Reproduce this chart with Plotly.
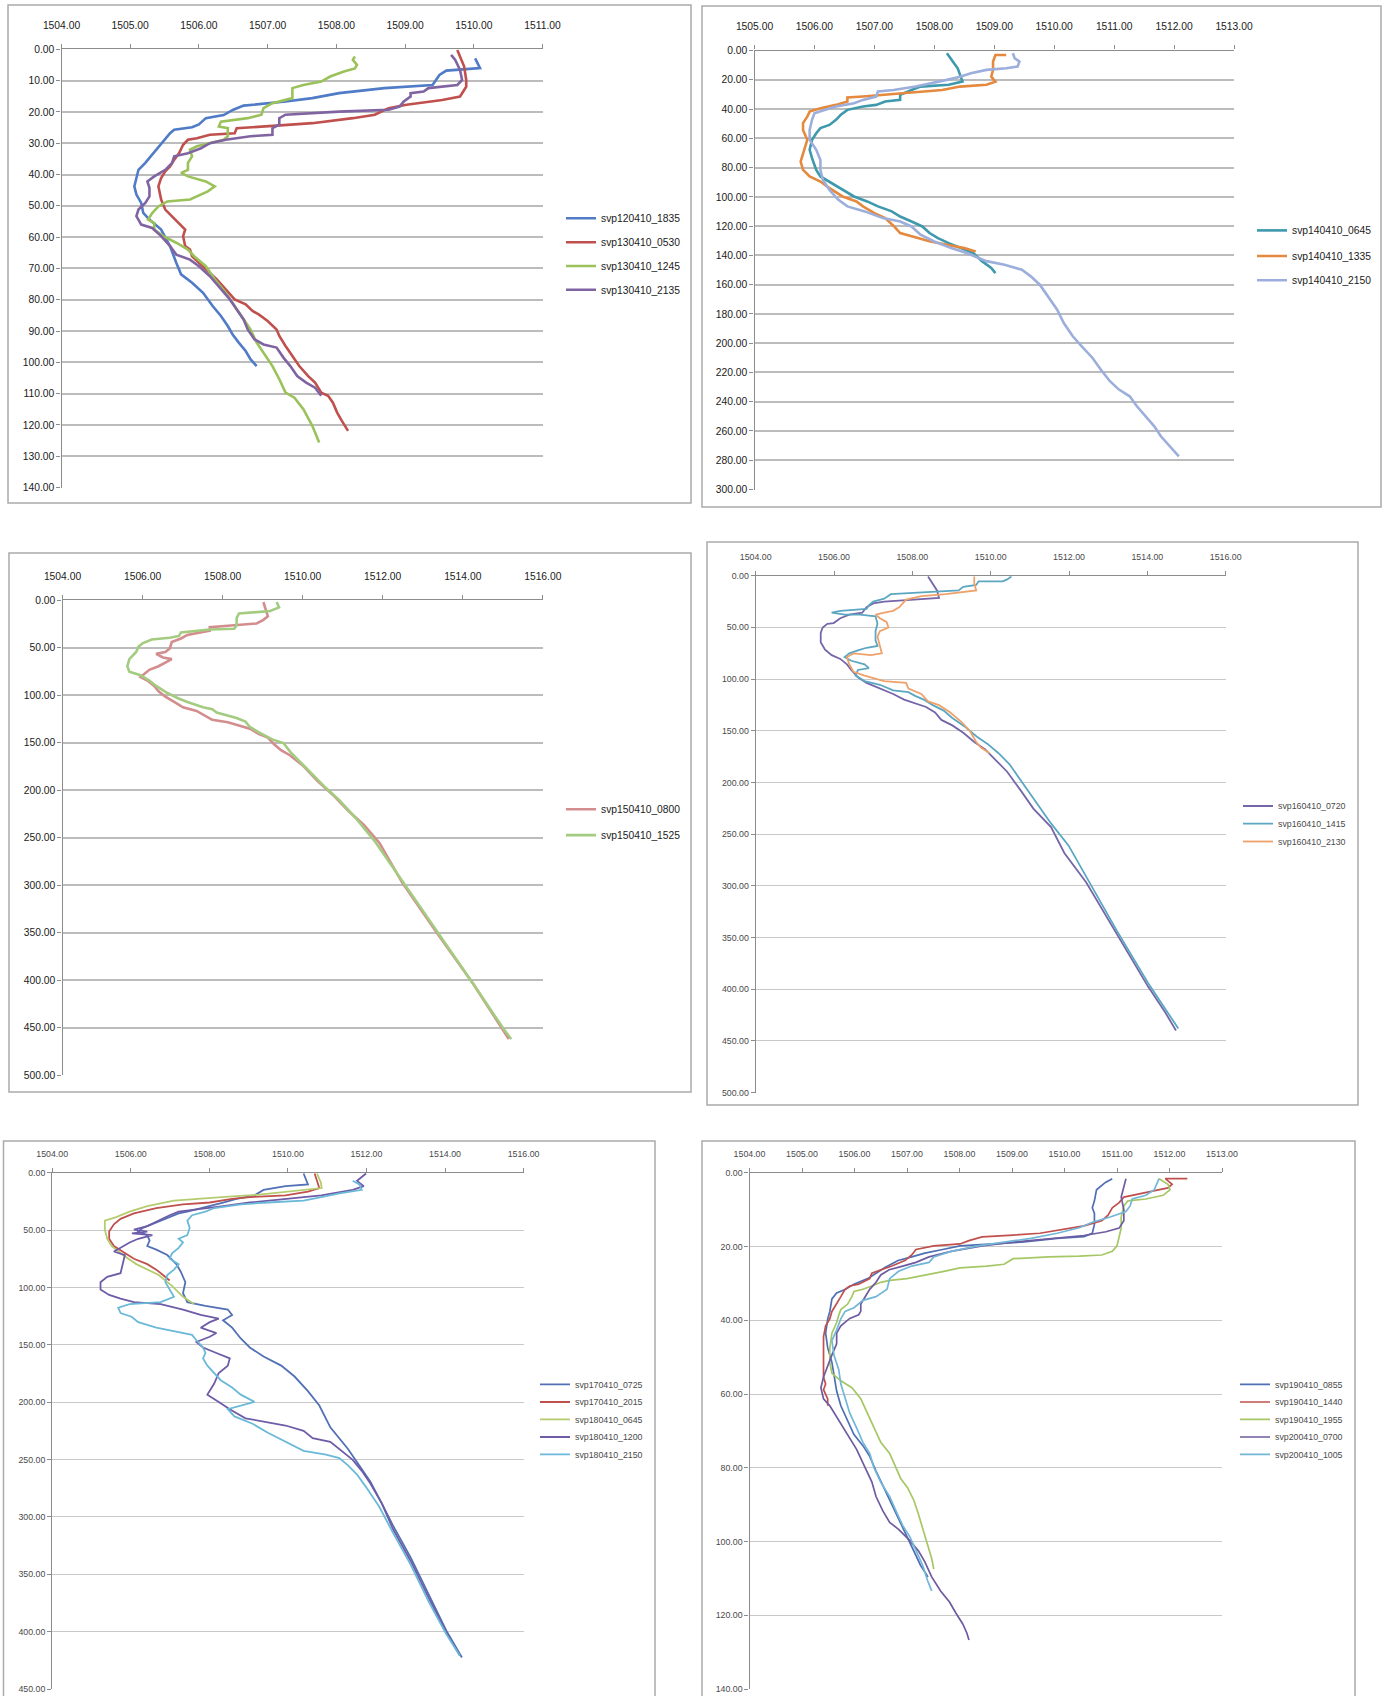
import plotly.graph_objects as go

W, H = 1388, 1696

# ---------------- data: (depth m, sound speed m/s) ----------------
# Panel 1
svp120410_1835 = [(2.9,1510.02),(6.0,1510.09),(6.8,1509.60),(8.2,1509.50),(11.4,1509.40),(12.4,1508.70),(14.0,1508.04),(15.6,1507.65),(16.7,1507.26),(18.0,1506.65),(19.3,1506.50),(21.0,1506.36),(22.0,1506.10),(24.0,1506.00),(24.9,1505.90),(25.7,1505.64),(26.8,1505.58),(28.9,1505.50),(30.0,1505.45),(32.0,1505.38),(33.7,1505.32),(36.3,1505.22),(38.5,1505.12),(41.7,1505.09),(43.8,1505.06),(46.4,1505.09),(49.1,1505.16),(52.3,1505.19),(54.4,1505.28),(57.6,1505.45),(62.9,1505.58),(68.2,1505.67),(71.9,1505.74),(74.6,1505.90),(77.8,1506.06),(82.0,1506.20),(85.2,1506.32),(88.4,1506.42),(91.1,1506.49),(93.7,1506.58),(96.4,1506.68),(99.0,1506.75),(101.2,1506.84)]
svp130410_0530 = [(0.2,1509.76),(2.3,1509.80),(5.5,1509.86),(9.8,1509.89),(11.9,1509.89),(13.0,1509.86),(15.1,1509.80),(16.2,1509.54),(16.7,1509.34),(17.7,1509.02),(18.8,1508.76),(20.9,1508.56),(22.0,1508.24),(23.6,1507.65),(24.4,1507.13),(25.2,1506.55),(26.8,1506.52),(27.3,1506.16),(28.4,1505.97),(28.9,1505.84),(30.5,1505.77),(33.2,1505.71),(35.3,1505.64),(37.4,1505.58),(39.0,1505.51),(41.1,1505.45),(43.8,1505.41),(48.0,1505.45),(51.2,1505.51),(53.3,1505.61),(55.5,1505.71),(57.6,1505.80),(59.7,1505.77),(62.9,1505.80),(64.0,1505.87),(66.1,1505.90),(68.2,1506.00),(70.3,1506.10),(73.5,1506.26),(76.7,1506.39),(79.9,1506.52),(81.5,1506.68),(83.6,1506.78),(84.7,1506.87),(86.8,1507.00),(89.5,1507.13),(91.6,1507.17),(94.8,1507.26),(98.0,1507.36),(101.2,1507.46),(104.4,1507.59),(106.5,1507.69),(109.7,1507.78),(110.7,1507.88),(112.9,1507.95),(116.0,1508.01),(118.7,1508.08),(121.9,1508.17)]
svp130410_1245 = [(2.3,1508.27),(3.4,1508.24),(5.0,1508.30),(6.1,1508.27),(7.1,1508.11),(8.7,1507.91),(10.3,1507.78),(11.4,1507.52),(12.4,1507.36),(15.6,1507.36),(17.2,1507.07),(18.8,1506.94),(20.9,1506.91),(22.0,1506.71),(23.1,1506.32),(24.7,1506.29),(25.2,1506.42),(27.8,1506.42),(28.9,1506.36),(30.0,1506.13),(31.0,1505.97),(32.1,1505.87),(34.2,1505.90),(36.3,1505.84),(38.5,1505.84),(39.5,1505.74),(40.6,1505.84),(42.2,1506.10),(43.8,1506.23),(45.4,1506.13),(47.0,1505.97),(48.0,1505.87),(48.6,1505.54),(50.2,1505.41),(52.3,1505.32),(54.4,1505.26),(55.5,1505.35),(57.6,1505.35),(59.7,1505.48),(61.8,1505.67),(64.0,1505.84),(66.1,1505.93),(69.3,1506.10),(73.5,1506.23),(77.8,1506.39),(82.0,1506.52),(85.2,1506.62),(89.5,1506.75),(93.7,1506.84),(98.0,1506.97),(101.2,1507.07),(105.4,1507.17),(109.7,1507.26),(111.3,1507.39),(115.0,1507.52),(120.3,1507.65),(125.6,1507.75)]
svp130410_2135 = [(1.8,1509.67),(3.4,1509.73),(6.6,1509.80),(9.8,1509.83),(11.4,1509.76),(12.4,1509.34),(13.5,1509.27),(14.0,1509.08),(15.1,1509.08),(16.7,1508.98),(18.3,1508.92),(19.3,1508.76),(19.9,1508.04),(20.9,1507.26),(22.0,1507.17),(24.1,1507.17),(25.2,1507.07),(27.3,1507.07),(27.8,1506.75),(28.9,1506.39),(30.0,1506.16),(31.6,1506.03),(33.2,1505.84),(34.2,1505.64),(36.3,1505.61),(38.5,1505.51),(40.6,1505.35),(42.2,1505.25),(44.3,1505.28),(47.0,1505.28),(49.1,1505.22),(51.2,1505.12),(53.3,1505.09),(56.0,1505.16),(57.1,1505.32),(59.7,1505.45),(62.9,1505.58),(65.6,1505.67),(67.2,1505.87),(69.3,1506.00),(72.5,1506.16),(76.7,1506.32),(79.9,1506.45),(83.1,1506.55),(86.3,1506.65),(89.5,1506.71),(92.7,1506.81),(94.3,1506.94),(95.3,1507.13),(98.5,1507.23),(101.2,1507.33),(104.4,1507.43),(106.5,1507.56),(108.1,1507.69),(110.7,1507.78)]

# Panel 2
svp140410_0645 = [(1.8,1508.21),(6.4,1508.29),(12.1,1508.39),(16.6,1508.43),(21.2,1508.47),(23.4,1508.24),(24.6,1507.77),(26.9,1507.62),(30.3,1507.43),(33.7,1507.43),(34.8,1507.18),(37.1,1507.03),(38.2,1506.81),(40.5,1506.55),(43.9,1506.44),(47.3,1506.36),(50.8,1506.25),(53.0,1506.10),(56.5,1506.03),(61.0,1505.96),(67.8,1505.92),(73.5,1505.96),(81.5,1506.03),(86.0,1506.10),(90.6,1506.29),(95.2,1506.47),(99.7,1506.66),(103.1,1506.88),(106.5,1507.06),(109.9,1507.29),(113.4,1507.43),(116.8,1507.62),(120.2,1507.80),(124.7,1507.92),(128.2,1508.06),(131.6,1508.24),(135.0,1508.43),(138.4,1508.65),(144.1,1508.80),(148.6,1508.95),(152.1,1509.02)]
svp140410_1335 = [(3.0,1509.20),(3.0,1509.02),(7.5,1508.98),(13.2,1508.98),(17.8,1508.95),(21.2,1509.02),(23.4,1508.87),(24.6,1508.43),(26.9,1508.13),(29.1,1507.54),(30.3,1507.10),(31.4,1506.81),(32.1,1506.55),(34.8,1506.55),(37.1,1506.36),(39.4,1506.10),(41.7,1505.92),(45.1,1505.88),(49.6,1505.81),(54.2,1505.81),(61.0,1505.88),(66.7,1505.84),(71.3,1505.81),(75.8,1505.77),(81.5,1505.81),(86.0,1505.92),(89.5,1506.10),(94.0,1506.25),(99.7,1506.47),(103.1,1506.70),(106.5,1506.81),(111.1,1507.00),(114.5,1507.18),(120.2,1507.33),(124.7,1507.43),(127.0,1507.62),(130.3,1507.92),(132.7,1508.21),(135.0,1508.50),(137.3,1508.69)]
svp140410_2150 = [(1.8,1509.31),(5.2,1509.34),(7.5,1509.42),(10.9,1509.39),(12.1,1509.20),(13.2,1508.87),(15.5,1508.61),(17.8,1508.43),(20.0,1508.21),(22.3,1507.92),(24.6,1507.69),(26.9,1507.32),(28.0,1507.06),(31.4,1507.03),(33.7,1506.81),(36.0,1506.66),(38.2,1506.36),(40.5,1506.18),(42.8,1506.00),(47.3,1505.96),(54.2,1505.92),(61.0,1505.92),(67.8,1506.03),(74.7,1506.10),(81.5,1506.10),(88.3,1506.14),(95.2,1506.25),(102.0,1506.40),(106.5,1506.55),(109.9,1506.84),(114.5,1507.14),(116.8,1507.43),(120.2,1507.62),(125.9,1507.77),(130.3,1507.99),(135.0,1508.28),(138.4,1508.54),(143.9,1508.87),(146.4,1509.17),(149.8,1509.46),(154.3,1509.61),(160.0,1509.76),(168.0,1509.90),(177.1,1510.05),(186.2,1510.16),(195.3,1510.31),(202.1,1510.46),(210.1,1510.64),(218.1,1510.78),(226.0,1510.93),(231.7,1511.08),(236.3,1511.26),(243.1,1511.38),(250.0,1511.52),(256.8,1511.67),(263.6,1511.78),(270.4,1511.93),(277.3,1512.08)]

# Panel 3
svp150410_0800 = [(1.9,1509.02),(9.4,1509.07),(16.9,1509.13),(20.6,1509.02),(24.4,1508.85),(26.3,1508.29),(28.2,1507.68),(31.9,1507.68),(33.8,1507.46),(36.4,1507.12),(40.2,1506.96),(43.9,1506.73),(50.7,1506.68),(54.4,1506.57),(56.3,1506.34),(60.1,1506.51),(61.9,1506.73),(65.7,1506.57),(69.4,1506.40),(73.2,1506.17),(77.0,1506.06),(80.7,1505.95),(84.5,1506.12),(90.1,1506.29),(95.7,1506.40),(101.4,1506.57),(107.0,1506.79),(112.6,1507.01),(116.4,1507.35),(122.0,1507.57),(125.8,1507.74),(128.4,1508.13),(132.1,1508.41),(135.1,1508.68),(140.8,1508.91),(144.5,1509.13),(152.0,1509.30),(157.7,1509.46),(163.3,1509.69),(174.5,1510.02),(189.6,1510.36),(204.6,1510.75),(221.5,1511.14),(236.5,1511.53),(255.3,1511.92),(296.6,1512.48),(351.0,1513.37),(403.5,1514.26),(461.7,1515.15)]
svp150410_1525 = [(1.9,1509.35),(7.5,1509.41),(11.3,1509.19),(13.9,1508.41),(18.8,1508.35),(26.3,1508.35),(30.0,1508.29),(30.8,1507.68),(33.8,1506.96),(37.5,1506.91),(39.4,1506.68),(41.3,1506.23),(45.0,1506.01),(48.8,1505.90),(54.4,1505.84),(61.9,1505.67),(69.4,1505.62),(75.1,1505.67),(78.8,1505.95),(84.5,1506.17),(90.1,1506.34),(97.6,1506.62),(103.3,1506.90),(107.0,1507.12),(112.6,1507.51),(114.5,1507.74),(118.2,1507.85),(123.9,1508.35),(127.6,1508.57),(133.3,1508.68),(138.9,1508.91),(146.4,1509.24),(150.2,1509.52),(159.5,1509.69),(178.3,1510.13),(197.1,1510.57),(210.2,1510.91),(230.9,1511.36),(253.4,1511.80),(294.7,1512.48),(349.1,1513.37),(403.5,1514.26),(452.3,1515.04),(461.7,1515.21)]

# Panel 4
svp160410_0720 = [(0.7,1508.40),(7.2,1508.52),(14.3,1508.63),(21.5,1508.68),(23.2,1508.07),(25.0,1507.28),(26.8,1507.00),(30.4,1506.83),(35.8,1506.72),(37.6,1506.39),(41.1,1506.16),(45.8,1505.99),(46.5,1505.83),(50.1,1505.71),(55.4,1505.66),(64.4,1505.66),(71.5,1505.77),(76.9,1505.94),(80.5,1506.16),(85.8,1506.33),(91.2,1506.44),(98.4,1506.61),(103.7,1506.83),(109.1,1507.17),(114.4,1507.51),(119.8,1507.79),(123.4,1508.07),(127.0,1508.35),(132.3,1508.58),(139.5,1508.74),(144.8,1509.02),(152.0,1509.30),(160.9,1509.58),(168.1,1509.86),(178.8,1510.14),(189.6,1510.42),(207.4,1510.76),(225.3,1511.09),(243.2,1511.54),(268.2,1511.88),(296.8,1512.44),(346.9,1513.22),(397.0,1514.01),(422.0,1514.45),(439.9,1514.73)]
svp160410_1415 = [(0.7,1510.53),(3.6,1510.42),(5.4,1510.31),(5.4,1509.69),(8.9,1509.63),(10.7,1509.30),(14.3,1509.18),(16.1,1508.23),(17.9,1507.45),(22.2,1507.28),(25.0,1507.00),(28.6,1506.89),(32.2,1506.83),(34.0,1506.16),(35.8,1505.94),(37.6,1506.27),(37.6,1506.66),(39.3,1507.06),(46.5,1507.11),(53.6,1507.06),(62.6,1507.06),(68.0,1507.11),(69.7,1506.83),(72.2,1506.61),(75.1,1506.39),(78.7,1506.27),(82.3,1506.44),(85.8,1506.78),(89.4,1506.89),(91.2,1506.61),(96.6,1506.55),(101.9,1506.78),(105.5,1507.17),(110.9,1507.51),(112.7,1507.90),(116.2,1508.07),(119.8,1508.29),(125.2,1508.52),(130.5,1508.80),(137.7,1509.02),(146.6,1509.36),(155.6,1509.64),(162.7,1509.92),(171.7,1510.20),(182.4,1510.48),(200.3,1510.81),(218.2,1511.15),(239.6,1511.54),(261.1,1511.99),(291.5,1512.44),(343.3,1513.22),(393.4,1514.01),(425.6,1514.57),(438.1,1514.79)]
svp160410_2130 = [(0.7,1509.58),(7.2,1509.58),(14.3,1509.63),(17.9,1508.85),(19.7,1508.23),(23.2,1507.84),(30.4,1507.67),(34.0,1507.51),(35.8,1507.28),(37.6,1507.06),(41.1,1507.17),(44.7,1507.34),(50.1,1507.39),(53.6,1507.17),(59.0,1507.11),(68.0,1507.17),(75.1,1507.22),(76.9,1506.94),(75.1,1506.50),(78.7,1506.33),(85.8,1506.39),(93.0,1506.50),(96.6,1506.78),(101.9,1507.28),(103.7,1507.84),(109.1,1507.90),(114.4,1508.23),(121.6,1508.40),(125.2,1508.68),(132.3,1508.97),(141.3,1509.25),(150.2,1509.47),(160.9,1509.63),(166.3,1509.75),(171.7,1509.97)]

# Panel 5
svp170410_0725 = [(0.6,1510.40),(5.4,1510.45),(10.1,1510.51),(11.7,1509.94),(14.9,1509.38),(19.6,1509.15),(22.8,1508.69),(25.9,1508.35),(29.1,1508.01),(30.7,1507.78),(33.8,1507.44),(35.4,1507.22),(38.6,1506.99),(41.7,1506.76),(44.9,1506.53),(48.0,1506.31),(51.2,1506.19),(54.4,1506.42),(59.1,1506.48),(63.8,1506.42),(67.0,1506.65),(71.7,1506.93),(79.6,1507.16),(86.0,1507.27),(95.4,1507.39),(104.9,1507.33),(112.8,1507.44),(116.0,1507.90),(119.2,1508.47),(123.9,1508.58),(128.6,1508.35),(135.0,1508.58),(144.4,1508.80),(152.3,1509.03),(160.2,1509.38),(168.1,1509.83),(177.6,1510.17),(190.3,1510.51),(202.9,1510.80),(221.9,1511.08),(240.8,1511.53),(255.1,1511.82),(269.3,1512.10),(288.2,1512.39),(307.2,1512.67),(335.7,1513.13),(367.3,1513.58),(398.9,1514.03),(422.6,1514.43)]
svp170410_2015 = [(0.6,1510.68),(7.0,1510.74),(13.3,1510.80),(16.4,1510.51),(19.6,1509.94),(21.2,1509.03),(22.8,1508.58),(25.9,1508.01),(27.5,1507.33),(30.7,1506.65),(35.4,1506.08),(40.1,1505.74),(44.9,1505.57),(51.2,1505.45),(57.5,1505.45),(63.8,1505.57),(68.6,1505.80),(74.9,1506.08),(79.6,1506.42),(84.4,1506.65),(89.1,1506.82),(93.9,1506.99)]
svp180410_0645 = [(0.6,1510.74),(8.5,1510.84),(13.3,1510.86),(16.4,1510.07),(19.0,1509.27),(20.5,1508.58),(22.1,1507.90),(24.3,1507.10),(29.1,1506.42),(33.8,1505.97),(38.6,1505.63),(41.7,1505.34),(49.6,1505.34),(57.5,1505.40),(63.8,1505.51),(71.7,1505.80),(79.6,1506.14),(84.4,1506.42),(89.1,1506.71),(98.6,1507.05),(108.1,1507.33),(114.4,1507.61)]
svp180410_1200 = [(0.6,1511.99),(7.0,1511.76),(11.7,1511.93),(14.9,1511.65),(19.6,1510.85),(22.8,1509.94),(25.9,1509.03),(29.1,1508.35),(32.2,1507.67),(33.8,1507.22),(37.0,1506.99),(41.7,1506.70),(46.5,1506.42),(49.6,1506.08),(51.2,1506.42),(52.8,1506.03),(54.4,1506.55),(57.5,1506.19),(60.7,1505.97),(65.4,1505.74),(68.6,1505.57),(71.7,1505.85),(79.6,1505.80),(87.5,1505.74),(90.7,1505.40),(95.4,1505.23),(101.8,1505.23),(106.5,1505.45),(109.7,1505.74),(112.8,1506.08),(114.4,1506.76),(119.2,1507.33),(123.9,1507.78),(127.1,1508.24),(130.2,1508.01),(135.0,1507.78),(139.7,1508.18),(142.9,1508.01),(147.5,1507.67),(152.3,1507.84),(157.1,1508.18),(161.8,1508.52),(168.1,1508.47),(174.5,1508.24),(183.9,1508.12),(193.4,1507.95),(199.7,1508.24),(206.1,1508.52),(214.0,1508.92),(217.2,1509.49),(220.3,1509.94),(225.0,1510.40),(231.4,1510.63),(234.5,1511.08),(240.8,1511.31),(250.3,1511.65),(259.8,1511.88),(270.9,1512.10),(288.2,1512.39),(310.3,1512.67),(338.8,1513.13),(370.4,1513.58),(400.5,1514.03),(421.0,1514.38)]
svp180410_2150 = [(7.0,1511.65),(10.1,1511.82),(14.9,1511.88),(18.0,1511.31),(21.2,1510.85),(24.3,1510.40),(25.9,1509.49),(27.5,1508.81),(30.7,1508.13),(33.8,1507.90),(37.0,1507.56),(41.7,1507.44),(48.0,1507.50),(54.4,1507.44),(57.5,1507.22),(60.7,1507.33),(65.4,1507.22),(70.2,1507.05),(74.9,1506.99),(79.6,1507.22),(84.4,1507.10),(89.1,1506.93),(95.4,1506.88),(101.8,1506.99),(108.1,1507.10),(112.8,1506.76),(114.4,1505.97),(117.6,1505.68),(122.3,1505.74),(125.5,1506.02),(130.2,1506.19),(135.0,1506.65),(138.1,1507.10),(141.3,1507.56),(146.0,1507.67),(152.3,1507.84),(157.1,1507.90),(161.8,1507.84),(168.1,1507.95),(174.5,1508.12),(180.8,1508.29),(187.2,1508.58),(193.4,1508.80),(199.7,1509.15),(202.9,1508.80),(206.1,1508.47),(212.4,1508.64),(218.8,1509.10),(226.6,1509.49),(234.5,1509.94),(242.4,1510.40),(245.6,1510.97),(248.7,1511.31),(255.1,1511.53),(263.0,1511.76),(274.0,1511.99),(291.4,1512.33),(313.5,1512.67),(342.0,1513.13),(373.6,1513.58),(402.0,1514.03),(421.0,1514.38)]

# Panel 6
svp190410_0855 = [(1.6,1510.91),(2.6,1510.78),(4.6,1510.61),(7.6,1510.57),(9.5,1510.53),(11.0,1510.57),(14.0,1510.57),(16.4,1510.53),(17.3,1510.37),(17.8,1509.86),(18.8,1509.19),(19.3,1508.60),(19.8,1508.01),(20.8,1507.68),(21.8,1507.34),(22.8,1507.09),(23.8,1506.83),(25.7,1506.58),(27.2,1506.41),(28.7,1506.25),(30.2,1505.99),(31.6,1505.83),(32.6,1505.66),(34.2,1505.57),(37.6,1505.53),(39.6,1505.49),(43.5,1505.45),(47.5,1505.49),(51.4,1505.57),(55.4,1505.61),(59.2,1505.66),(63.2,1505.74),(67.1,1505.87),(71.0,1505.99),(74.0,1506.16),(76.9,1506.29),(80.9,1506.41),(84.8,1506.54),(88.8,1506.67),(92.7,1506.79),(96.6,1506.92),(101.6,1507.09),(106.5,1507.26),(109.6,1507.40)]
svp190410_1440 = [(1.6,1512.34),(1.6,1511.92),(3.1,1512.05),(4.1,1511.97),(5.1,1511.63),(6.1,1511.29),(6.6,1511.13),(8.1,1511.04),(9.5,1510.91),(11.5,1510.83),(13.0,1510.71),(14.4,1510.37),(15.4,1509.95),(16.4,1509.53),(16.9,1509.02),(17.4,1508.43),(18.4,1508.18),(19.3,1508.01),(19.8,1507.51),(20.8,1507.17),(22.3,1507.09),(23.8,1506.96),(25.3,1506.71),(26.3,1506.50),(27.2,1506.33),(28.7,1506.29),(30.2,1506.08),(30.7,1505.91),(31.6,1505.82),(33.6,1505.74),(35.6,1505.66),(37.6,1505.57),(39.6,1505.53),(41.5,1505.45),(44.5,1505.41),(47.5,1505.41),(51.4,1505.41),(55.4,1505.41),(57.3,1505.45),(58.8,1505.41),(61.3,1505.49),(63.2,1505.49)]
svp190410_1955 = [(1.6,1511.80),(3.1,1511.97),(4.6,1512.01),(6.1,1511.88),(7.1,1511.55),(7.6,1511.21),(9.0,1511.13),(12.0,1511.08),(15.0,1511.08),(17.9,1511.04),(19.8,1511.00),(21.3,1510.91),(22.3,1510.71),(22.6,1510.28),(22.8,1509.70),(23.3,1509.02),(24.8,1508.85),(25.3,1508.52),(25.8,1508.01),(26.8,1507.68),(27.7,1507.34),(28.7,1507.00),(29.2,1506.67),(29.7,1506.50),(30.7,1506.33),(31.6,1506.16),(32.2,1505.99),(33.6,1505.95),(35.6,1505.87),(37.1,1505.74),(38.6,1505.70),(40.6,1505.66),(43.5,1505.57),(47.5,1505.53),(51.4,1505.53),(54.4,1505.57),(56.4,1505.74),(58.3,1505.95),(61.3,1506.12),(65.2,1506.25),(69.2,1506.37),(73.1,1506.50),(76.1,1506.67),(80.0,1506.79),(82.9,1506.88),(85.4,1507.01),(88.8,1507.13),(92.7,1507.22),(96.7,1507.30),(100.6,1507.39),(104.6,1507.47),(107.5,1507.51)]
svp200410_0700 = [(1.6,1511.17),(4.0,1511.13),(6.6,1511.08),(10.0,1511.13),(13.0,1511.13),(15.0,1511.04),(16.0,1510.79),(17.0,1510.37),(17.8,1509.70),(18.8,1509.02),(19.8,1508.43),(21.3,1507.84),(22.8,1507.42),(24.3,1507.17),(25.3,1506.92),(26.3,1506.66),(27.7,1506.50),(29.7,1506.41),(31.6,1506.29),(33.6,1506.20),(35.6,1506.12),(37.5,1506.12),(38.5,1506.08),(39.5,1505.91),(41.5,1505.74),(43.5,1505.66),(46.4,1505.66),(49.4,1505.57),(52.4,1505.49),(55.4,1505.41),(58.3,1505.36),(61.3,1505.41),(63.2,1505.53),(66.2,1505.66),(69.1,1505.78),(72.0,1505.91),(75.0,1506.04),(79.9,1506.20),(83.8,1506.33),(87.8,1506.41),(91.7,1506.54),(94.8,1506.67),(96.7,1506.84),(99.7,1507.05),(102.6,1507.22),(105.5,1507.34),(109.6,1507.47),(113.4,1507.64),(116.4,1507.81),(119.4,1507.93),(122.3,1508.06),(124.8,1508.14),(126.7,1508.18)]
svp200410_1005 = [(1.6,1511.80),(3.1,1511.75),(4.6,1511.71),(6.1,1511.55),(7.1,1511.29),(9.0,1511.25),(10.5,1511.17),(12.0,1510.87),(13.4,1510.53),(14.9,1510.28),(16.4,1509.86),(17.8,1509.36),(18.8,1508.85),(19.8,1508.35),(21.3,1507.84),(22.8,1507.51),(24.3,1507.42),(25.3,1507.09),(26.7,1506.84),(28.7,1506.67),(31.6,1506.62),(33.6,1506.41),(34.6,1506.16),(36.6,1505.99),(37.6,1505.82),(39.6,1505.74),(42.6,1505.66),(45.5,1505.57),(49.5,1505.61),(53.4,1505.70),(57.3,1505.74),(61.3,1505.82),(65.2,1505.91),(69.2,1506.04),(73.1,1506.16),(76.1,1506.29),(80.0,1506.37),(83.9,1506.50),(87.8,1506.67),(91.7,1506.79),(95.7,1506.92),(98.6,1507.05),(102.6,1507.17),(106.5,1507.30),(110.5,1507.39),(113.4,1507.47)]

# ---------------- layout helpers (pixel boxes) ----------------
def fx(p):
    return p / W

def fy(p):
    return 1 - p / H

FONT = "Liberation Sans, Arial, sans-serif"

panels = [
    dict(series=[("svp120410_1835", svp120410_1835, "#4F7BC7"),
                 ("svp130410_0530", svp130410_0530, "#C0504D"),
                 ("svp130410_1245", svp130410_1245, "#9BC25A"),
                 ("svp130410_2135", svp130410_2135, "#8064A2")],
         xr=[1504, 1511], xd=1, yr=[140, 0], yd=10,
         area=(61.5, 49.3, 542.5, 487.5), frame=(8, 5, 691, 503),
         leg_x=561, leg_y=[218.3, 242.3, 266.0, 289.7], big=True, lw=2.6),
    dict(series=[("svp140410_0645", svp140410_0645, "#3E99AC"),
                 ("svp140410_1335", svp140410_1335, "#E4893E"),
                 ("svp140410_2150", svp140410_2150, "#9CAEDB")],
         xr=[1505, 1513], xd=1, yr=[300, 0], yd=20,
         area=(754.5, 50.6, 1234, 489.5), frame=(702, 6, 1381, 507),
         leg_x=1252, leg_y=[230.4, 256.0, 280.2], big=True, lw=2.6),
    dict(series=[("svp150410_0800", svp150410_0800, "#D38D8E"),
                 ("svp150410_1525", svp150410_1525, "#A4CC80")],
         xr=[1504, 1516], xd=2, yr=[500, 0], yd=50,
         area=(62.5, 600.3, 542.8, 1075.4), frame=(9, 553, 691, 1092),
         leg_x=561, leg_y=[809.2, 835.1], big=True, lw=2.6),
    dict(series=[("svp160410_0720", svp160410_0720, "#7566A8"),
                 ("svp160410_1415", svp160410_1415, "#5BA7C2"),
                 ("svp160410_2130", svp160410_2130, "#EFA16A")],
         xr=[1504, 1516], xd=2, yr=[500, 0], yd=50,
         area=(755.7, 575.7, 1225.7, 1092.6), frame=(707, 542, 1358, 1105),
         leg_x=1238, leg_y=[805.7, 823.4, 841.2], big=False, lw=1.8),
    dict(series=[("svp170410_0725", svp170410_0725, "#5270B5"),
                 ("svp170410_2015", svp170410_2015, "#C0504D"),
                 ("svp180410_0645", svp180410_0645, "#B5CC6E"),
                 ("svp180410_1200", svp180410_1200, "#6E5CA8"),
                 ("svp180410_2150", svp180410_2150, "#6BB9D9")],
         xr=[1504, 1516], xd=2, yr=[450, 0], yd=50,
         area=(52.2, 1172.8, 523.6, 1689), frame=(3.5, 1141, 655, 1700),
         leg_x=535, leg_y=[1384.0, 1401.7, 1419.0, 1436.7, 1454.0], big=False, lw=1.8),
    dict(series=[("svp190410_0855", svp190410_0855, "#4F6FB5"),
                 ("svp190410_1440", svp190410_1440, "#C0504D"),
                 ("svp190410_1955", svp190410_1955, "#A6C765"),
                 ("svp200410_0700", svp200410_0700, "#6F5BA0"),
                 ("svp200410_1005", svp200410_1005, "#72B6D8")],
         xr=[1504, 1513], xd=1, yr=[140, 0], yd=20,
         area=(749.5, 1172.8, 1222, 1689), frame=(702, 1141, 1355, 1700),
         leg_x=1235, leg_y=[1384.0, 1401.7, 1419.0, 1436.7, 1454.0], big=False, lw=1.7),
]

fig = go.Figure()
shapes = []
layout = dict(width=W, height=H, autosize=False,
              margin=dict(l=0, r=0, t=0, b=0, pad=0),
              paper_bgcolor="white", plot_bgcolor="white",
              font=dict(family=FONT), showlegend=True)

leg_index = 0
for i, p in enumerate(panels, start=1):
    xa = "x" if i == 1 else f"x{i}"
    ya = "y" if i == 1 else f"y{i}"
    x0, y0, x1, y1 = p["area"]
    big = p["big"]
    fsize = 10.3 if big else 8.8
    fcol = "#1a1a1a" if big else "#4a4a4a"
    tick_font = dict(family=FONT, size=fsize, color=fcol)
    grid_col = "#bcbcbc" if big else "#c9c9c9"
    for (name, pts, col), cy in zip(p["series"], p["leg_y"]):
        leg_index += 1
        lg = "legend" if leg_index == 1 else f"legend{leg_index}"
        depth = [d for d, c in pts]
        speed = [c for d, c in pts]
        fig.add_trace(go.Scatter(
            x=speed, y=depth, mode="lines", name=name,
            line=dict(color=col, width=p["lw"]),
            xaxis=xa, yaxis=ya, legend=lg, hoverinfo="skip"))
        top = cy - (14.5 if big else 14.2)
        layout[lg] = dict(x=fx(p["leg_x"]), y=fy(top), xanchor="left", yanchor="top",
                          bgcolor="rgba(0,0,0,0)", borderwidth=0, itemwidth=30,
                          font=dict(family=FONT, size=fsize, color=fcol))
    layout["xaxis" if i == 1 else f"xaxis{i}"] = dict(
        domain=[fx(x0), fx(x1)], anchor=ya, side="top", automargin=False,
        range=p["xr"], dtick=p["xd"], tick0=p["xr"][0], tickformat=".2f",
        showgrid=False, zeroline=False, showline=True,
        linecolor="#8c8c8c", linewidth=1.3,
        ticks="outside", ticklen=4, tickcolor="#8c8c8c", tickwidth=1,
        ticklabelstandoff=11 if big else 7,
        tickfont=tick_font, fixedrange=True)
    layout["yaxis" if i == 1 else f"yaxis{i}"] = dict(
        domain=[fy(y1), fy(y0)], anchor=xa, automargin=False,
        range=p["yr"], dtick=p["yd"], tick0=0, tickformat=".2f",
        showgrid=True, gridcolor=grid_col, gridwidth=2 if big else 1.3,
        zeroline=False, showline=True, linecolor="#8c8c8c", linewidth=1.3,
        ticks="outside", ticklen=4, tickcolor="#8c8c8c", tickwidth=1,
        tickfont=tick_font, fixedrange=True)
    fx0, fy0, fx1, fy1 = p["frame"]
    shapes.append(dict(type="rect", xref="paper", yref="paper",
                       x0=fx(fx0), x1=fx(fx1), y0=fy(fy1), y1=fy(fy0),
                       line=dict(color="#aaaaaa", width=1.5),
                       fillcolor="rgba(0,0,0,0)", layer="below"))

layout["shapes"] = shapes
fig.update_layout(**layout)

fig.write_html("out.html", include_plotlyjs=True, full_html=True,
               config={"displayModeBar": False},
               post_script="document.body.style.margin='0';document.body.style.overflow='hidden';")
